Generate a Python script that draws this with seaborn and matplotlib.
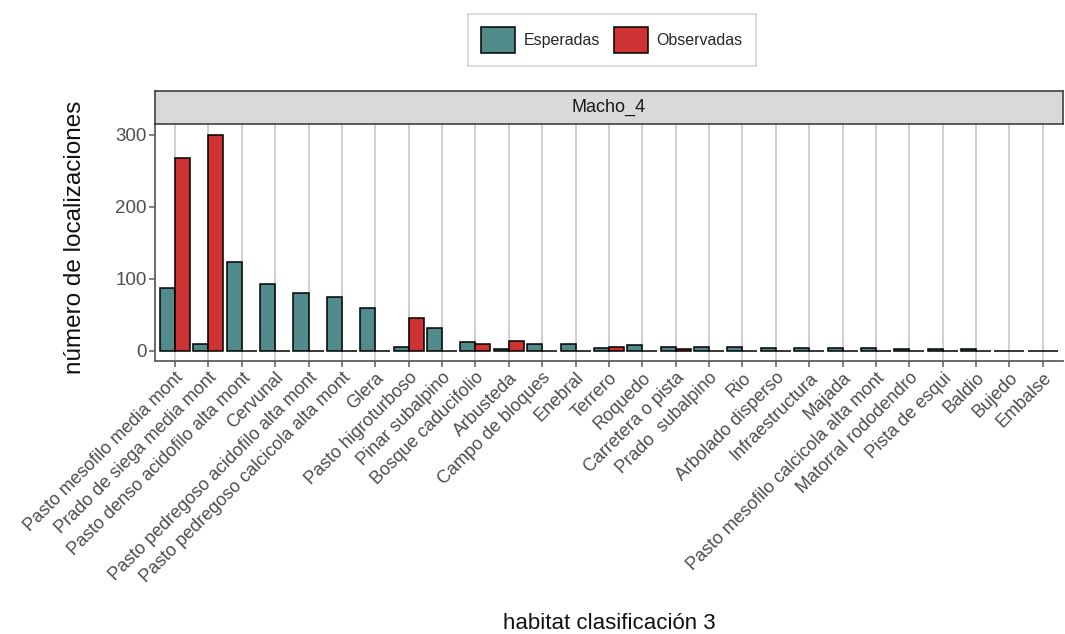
import numpy as np
import pandas as pd
import matplotlib
matplotlib.use("Agg")
import matplotlib.pyplot as plt
from matplotlib.patches import Patch
import seaborn as sns

habitats = [
    "Pasto mesofilo media mont", "Prado de siega media mont",
    "Pasto denso acidofilo alta mont", "Cervunal",
    "Pasto pedregoso acidofilo alta mont", "Pasto pedregoso calcicola alta mont",
    "Glera", "Pasto higroturboso", "Pinar subalpino", "Bosque caducifolio",
    "Arbusteda", "Campo de bloques", "Enebral", "Terrero", "Roquedo",
    "Carretera o pista", "Prado  subalpino", "Rio", "Arbolado disperso",
    "Infraestructura", "Majada", "Pasto mesofilo calcicola alta mont",
    "Matorral rododendro", "Pista de esqui", "Baldio", "Bujedo", "Embalse",
]
esperadas = [87, 9, 124, 93, 81, 75, 60, 5, 32, 12, 2, 10, 10, 4, 8, 6, 6, 6,
             4.5, 4.5, 4.5, 4, 2, 2, 2, 0, 0]
observadas = [268, 300, 0, 0, 0, 0, 0, 46, 0, 10, 14, 0, 0, 6, 0, 2, 0, 0,
              0, 0, 0, 0, 0, 0, 0, 0, 0]
grupos = ["Esperadas", "Observadas"]
colores = ["#528B8B", "#CD3333"]
panel = "Macho_4"

df = pd.DataFrame({
    "habitat": habitats * 2,
    "tipo": [grupos[0]] * len(habitats) + [grupos[1]] * len(habitats),
    "n": esperadas + observadas,
})

sns.set_theme(style="white")
plt.rcParams["font.family"] = ["Liberation Sans", "DejaVu Sans"]

fig = plt.figure(figsize=(10.65, 6.34), dpi=100)
ax = fig.add_axes([0.1455, 0.4306, 0.8525, 0.3738])

sns.barplot(data=df, x="habitat", y="n", hue="tipo", order=habitats,
            hue_order=grupos, palette=colores, width=0.9, edgecolor="black",
            linewidth=1.1, saturation=1, ax=ax, legend=False, zorder=3)

ax.set_xlim(-0.6, len(habitats) - 0.4)
ax.set_ylim(-14, 315)
ax.set_yticks([0, 100, 200, 300])
ax.set_facecolor("white")
ax.xaxis.grid(True, color="#CFCFCF", linewidth=1.4, zorder=0)
ax.yaxis.grid(False)
ax.set_axisbelow(True)
for s in ["top", "right"]:
    ax.spines[s].set_visible(False)
for s in ["left", "bottom"]:
    ax.spines[s].set_color("#5E5E5E")
    ax.spines[s].set_linewidth(1.3)
ax.tick_params(axis="both", which="major", length=4, width=1.1, color="#5E5E5E",
               labelcolor="#4D4D4D", labelsize=13, bottom=True, left=True, pad=2)
ax.set_xticks(range(len(habitats)))
ax.set_xticklabels(habitats, rotation=45, ha="right", va="top",
                   rotation_mode="anchor")
ax.tick_params(axis="y", labelsize=13.5)
ax.set_xlabel("habitat clasificación 3", fontsize=16, color="#111111")
ax.set_ylabel("número de localizaciones", fontsize=17.5, color="#111111")
ax.xaxis.set_label_coords(0.5, -1.065)
ax.yaxis.set_label_coords(-0.076, 0.52)

# facet strip
strip = fig.add_axes([0.1455, 0.8044, 0.8525, 0.0521])
strip.set_facecolor("#D9D9D9")
strip.set_xticks([])
strip.set_yticks([])
for s in strip.spines.values():
    s.set_color("#333333")
    s.set_linewidth(1.1)
strip.text(0.5, 0.5, panel, ha="center", va="center", fontsize=13,
           color="#1A1A1A", transform=strip.transAxes)

handles = [Patch(facecolor=c, edgecolor="black", linewidth=1.1, label=g)
           for c, g in zip(colores, grupos)]
leg = fig.legend(handles=handles, loc="center", bbox_to_anchor=(0.5746, 0.937),
                 ncol=2, frameon=True, fancybox=False, fontsize=11.5,
                 handlelength=2.1, handleheight=2.1, handletextpad=0.55,
                 columnspacing=0.9, borderpad=0.85, borderaxespad=0)
leg.get_frame().set_edgecolor("#C8C8C8")
leg.get_frame().set_linewidth(1.2)

fig.savefig("out.png", dpi=100)
